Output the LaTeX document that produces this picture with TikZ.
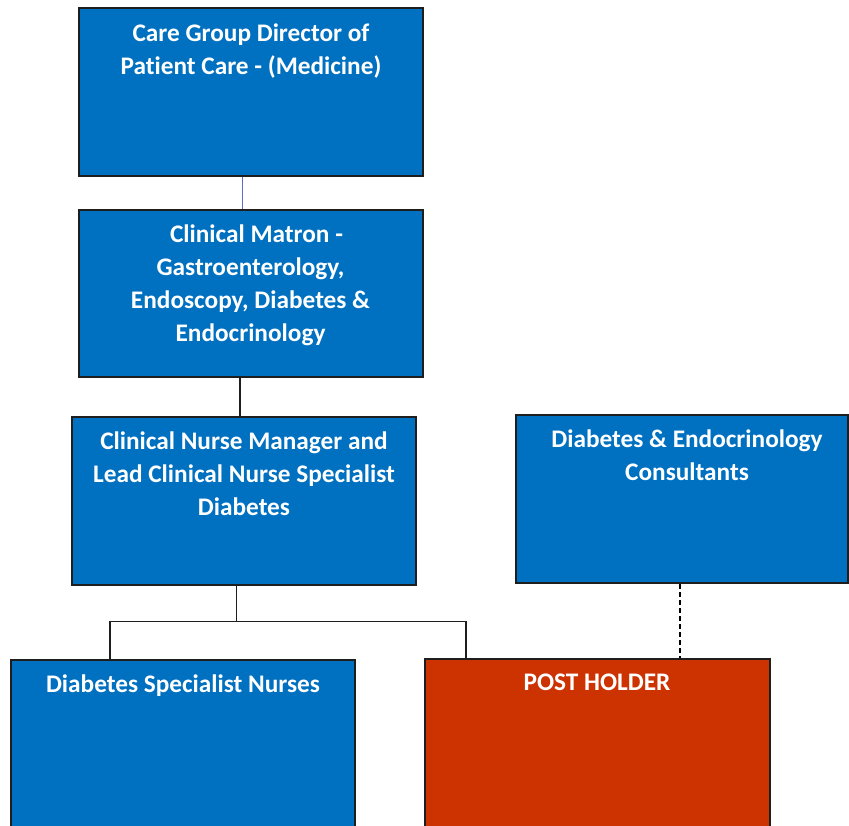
\documentclass[tikz,border=0pt]{standalone}
\usepackage{fontspec}
\setmainfont{Carlito}[Ligatures=NoCommon]
\definecolor{boxblue}{RGB}{0,112,192}
\definecolor{postred}{RGB}{204,51,0}
\definecolor{edgegray}{RGB}{30,30,30}
\definecolor{thinblue}{RGB}{90,110,200}
\tikzset{
  orgbox/.style={draw=edgegray, line width=1.6pt, fill=boxblue, rectangle, inner sep=0pt},
  postbox/.style={orgbox, fill=postred},
  boxtext/.style={anchor=north, inner sep=0pt, text=white, align=center,
    font=\fontsize{25.3}{33}\selectfont\bfseries},
  conn/.style={draw=edgegray, line width=1.4pt},
  dashconn/.style={draw=black, line width=1.5pt, dash pattern=on 5pt off 3pt}
}
\begin{document}
\begin{tikzpicture}[x=1pt,y=-1pt]
\useasboundingbox (0,0) rectangle (849,825);
\clip (0,0) rectangle (849,825);
\fill[white] (0,0) rectangle (849,825);

% boxes
\node[orgbox, minimum width=344pt, minimum height=168pt] (b1) at (251,92) {};
\node[orgbox, minimum width=344pt, minimum height=167pt] (b2) at (251,293.5) {};
\node[orgbox, minimum width=344pt, minimum height=168pt] (b3) at (244,501) {};
\node[orgbox, minimum width=332pt, minimum height=168pt] (b4) at (682,499) {};
\node[orgbox, minimum width=344pt, minimum height=176pt] (b5) at (183,748) {};
\node[postbox, minimum width=345pt, minimum height=176pt] (b6) at (597.5,747) {};

% texts
\node[boxtext] (t1) at (251,24) {Care Group Director of\\Patient Care - (Medicine)};
\node[boxtext] (t2) at (250.5,225) {\hspace*{12pt}Clinical Matron -\\Gastroenterology,\\Endoscopy, Diabetes \&\\Endocrinology};
\node[boxtext] (t3) at (244,432) {Clinical Nurse Manager and\\Lead Clinical Nurse Specialist\\Diabetes};
\node[boxtext] (t4) at (687,430) {Diabetes \& Endocrinology\\Consultants};
\node[boxtext] (t5) at (183,675) {Diabetes Specialist Nurses};
\node[boxtext] (t6) at (597,674) {POST HOLDER};

% connector helper coordinates
\coordinate (c1) at (242.7,0);
\coordinate (c2) at (240,0);
\coordinate (c3) at (236.7,621.7);
\coordinate (c4) at (110,621.7);
\coordinate (c5) at (466,621.7);
\coordinate (c6) at (680,0);

\draw[draw=thinblue, line width=1.1pt] (b1.south -| c1) -- (b2.north -| c1);
\draw[conn] (b2.south -| c2) -- (b3.north -| c2);
\draw[conn] (b3.south -| c3) -- (c3);
\draw[conn] (c4 |- b5.north) -- (c4) -- (c5) -- (c5 |- b6.north);
\draw[dashconn] (b4.south -| c6) -- (b6.north -| c6);
\end{tikzpicture}
\end{document}
